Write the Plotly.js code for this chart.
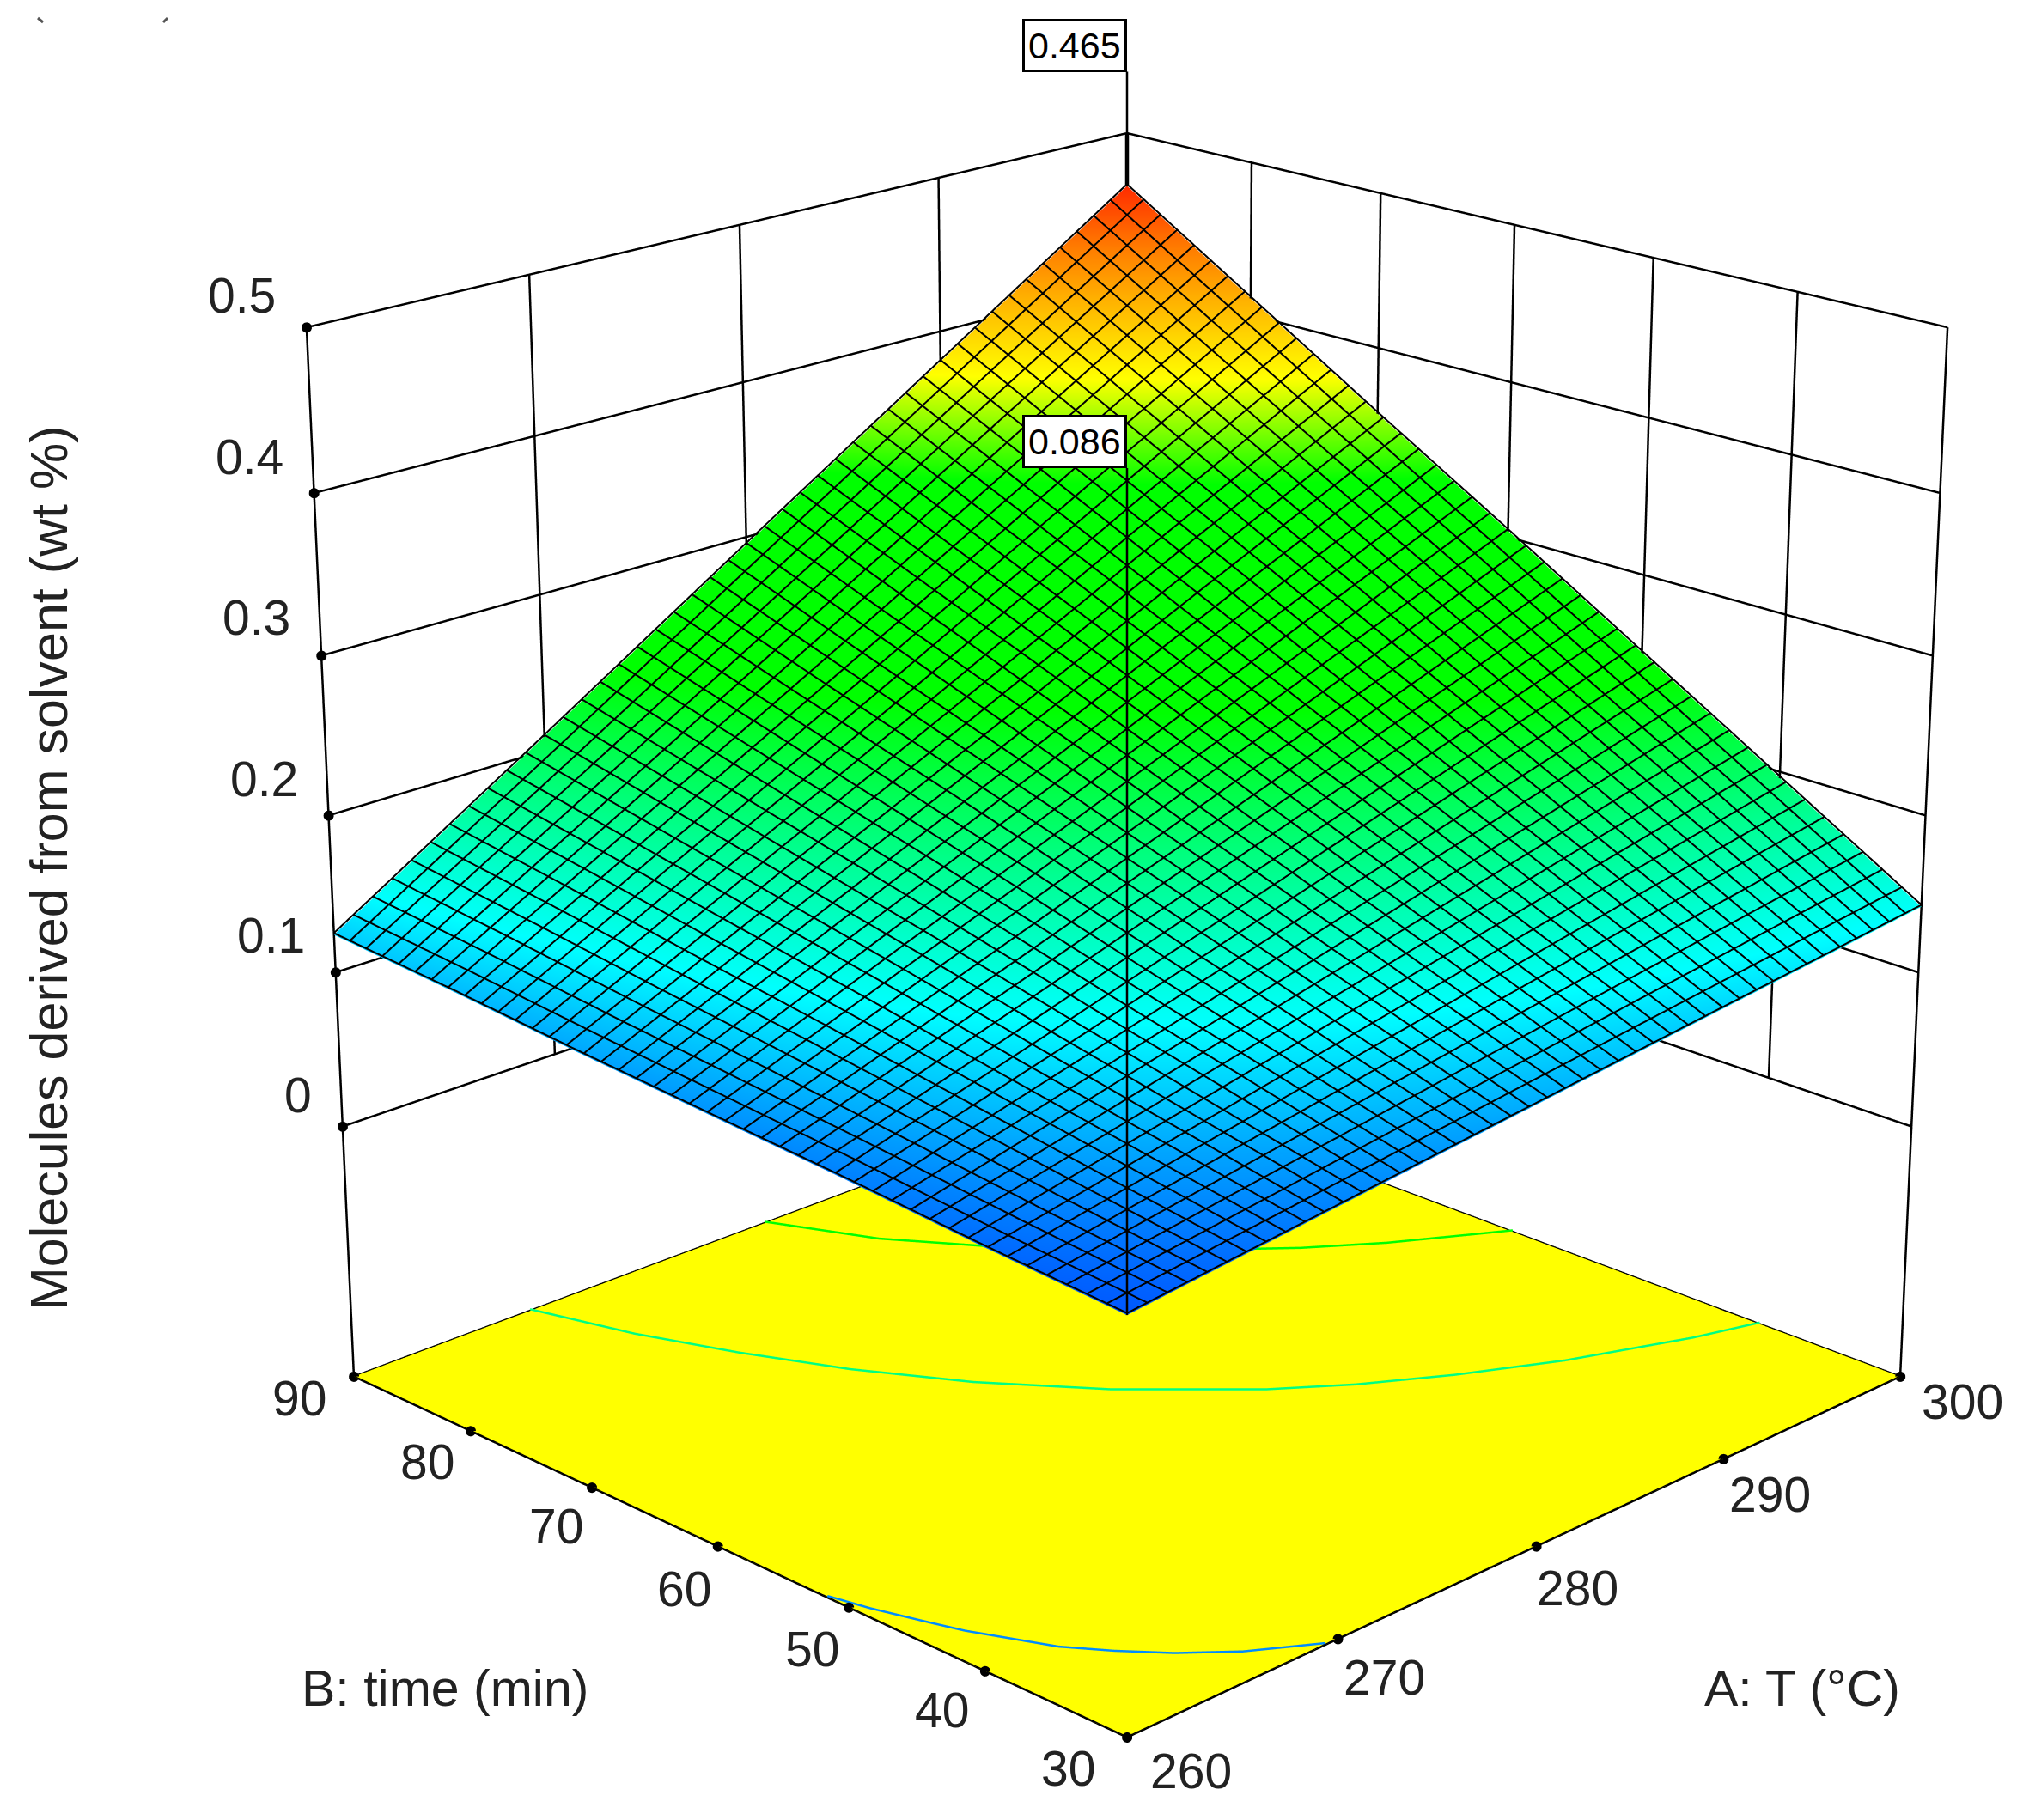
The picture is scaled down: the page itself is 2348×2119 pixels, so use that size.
<!DOCTYPE html>
<html><head><meta charset="utf-8">
<script src="https://cdn.plot.ly/plotly-3.0.1.min.js"></script>
<style>html,body{margin:0;padding:0;background:#fff}#g{width:2348px;height:2119px}</style>
</head><body><div id="g"></div>
<script>
const tempTicks=[260,270,280,290,300];
const timeTicks=[30,40,50,60,70,80,90];
const respTicks=[0,0.1,0.2,0.3,0.4,0.5];
const floorZ=-0.166, wallTop=0.5, zTop=0.6;
const meshCells=44;
// response: rows are time (30..90), columns are T (260..300)
const resp=[
 [0.086,0.100,0.114,0.128,0.142],
 [0.092,0.118,0.144,0.170,0.196],
 [0.099,0.136,0.174,0.212,0.250],
 [0.105,0.155,0.204,0.254,0.304],
 [0.111,0.173,0.234,0.296,0.357],
 [0.118,0.191,0.264,0.338,0.411],
 [0.124,0.209,0.295,0.380,0.465]];
// contour curves on the floor
const c1T=[260,260.4,261,261.5,262.2,262.9,264,265.3,267,269.4], c1B=[51.6,49,46.1,43.8,41.5,39.2,36.9,34.6,32.3,30];
const c2T=[268.4,269.7,271.3,273.2,275.6,278.7,282.7,285.3,288.5,292.3,297.2,300], c2B=[90,83.3,77.3,71.3,65.3,59.3,53.3,50.3,47.3,44.3,41.3,40];
const c3T=[280.2,282.2,285,288.6,293,295.7,299,300], c3B=[90,83.5,77.5,71.4,65.4,62.4,59.4,58.5];
const flagLow={t:260,b:30,z:0.086,top:0.556,label:'0.086'};
const flagHigh={t:300,b:90,z:0.465,top:0.5405,label:'0.465'};

const colorscale=[[0,'rgb(0,90,255)'],[0.14,'rgb(0,255,255)'],[0.40,'rgb(0,255,0)'],[0.64,'rgb(0,255,0)'],
 [0.76,'rgb(255,255,0)'],[0.92,'rgb(255,125,0)'],[1,'rgb(255,45,0)']];
const flat={ambient:1,diffuse:0,specular:0,roughness:1,fresnel:0};
const tMin=tempTicks[0],tMax=tempTicks[4],bMin=timeTicks[0],bMax=timeTicks[6];
const traces=[];
function line(x,y,z,color,width){traces.push({type:'scatter3d',mode:'lines',x,y,z,line:{color:color||'#000',width:width||5},hoverinfo:'skip',showlegend:false});}

// floor
traces.push({type:'surface',x:[tMin,tMax],y:[bMin,bMax],z:[[floorZ,floorZ],[floorZ,floorZ]],
 surfacecolor:[[0,0],[0,0]],colorscale:[[0,'rgb(255,255,0)'],[1,'rgb(255,255,0)']],cmin:0,cmax:1,showscale:false,lighting:flat,hoverinfo:'skip'});
// response surface
traces.push({type:'surface',x:tempTicks,y:timeTicks,z:resp,colorscale,cmin:0.086,cmax:0.465,showscale:false,lighting:flat,hoverinfo:'skip',
 contours:{x:{highlight:false},y:{highlight:false},z:{highlight:false}}});
// heavy mesh on the response surface: looked up in the table, as straight runs
function lookup(t,b){
  const fx=Math.min((t-tMin)/10,3.9999), fy=Math.min((b-bMin)/10,5.9999);
  const i=Math.floor(fx), j=Math.floor(fy), u=fx-i, v=fy-j;
  return (1-v)*((1-u)*resp[j][i]+u*resp[j][i+1])+v*((1-u)*resp[j+1][i]+u*resp[j+1][i+1]);
}
const mx=[],my=[],mz=[],meshLift=0.0012;
for(let k=0;k<=meshCells;k++){
  const t=tMin+(tMax-tMin)*k/meshCells, b=bMin+(bMax-bMin)*k/meshCells;
  timeTicks.forEach(g=>{mx.push(t);my.push(g);mz.push(lookup(t,g)+meshLift);});
  mx.push(null);my.push(null);mz.push(null);
  tempTicks.forEach(g=>{mx.push(g);my.push(b);mz.push(lookup(g,b)+meshLift);});
  mx.push(null);my.push(null);mz.push(null);
}
traces.push({type:'scatter3d',mode:'lines',x:mx,y:my,z:mz,connectgaps:false,line:{color:'#000',width:4},hoverinfo:'skip',showlegend:false});
// floor outline
line([tMin,tMax,tMax,tMin,tMin],[bMin,bMin,bMax,bMax,bMin],[floorZ,floorZ,floorZ,floorZ,floorZ]);
// back walls: level lines
respTicks.forEach(v=>line([tMin,tMax,tMax],[bMax,bMax,bMin],[v,v,v]));
// back walls: uprights run from zero to the top; only the two outer corners reach the floor
tempTicks.forEach(t=>line([t,t],[bMax,bMax],[t===tMin?floorZ:respTicks[0],wallTop]));
timeTicks.forEach(b=>line([tMax,tMax],[b,b],[b===bMin?floorZ:respTicks[0],wallTop]));
// floor contours
const lift=floorZ+0.001;
line(c1T,c1B,c1T.map(()=>lift),'rgb(0,140,255)',5);
line(c2T,c2B,c2T.map(()=>lift),'rgb(0,255,130)',5);
line(c3T,c3B,c3T.map(()=>lift),'rgb(0,255,0)',5);
// flags
[flagLow,flagHigh].forEach(f=>line([f.t,f.t],[f.b,f.b],[f.z,f.top],'#000',5));
line([flagHigh.t,flagHigh.t],[flagHigh.b,flagHigh.b],[flagHigh.z,wallTop],'#000',9);
// tick dots
const dot={size:7,color:'#000'};
traces.push({type:'scatter3d',mode:'markers',x:timeTicks.map(()=>tMin),y:timeTicks,z:timeTicks.map(()=>floorZ),marker:dot,hoverinfo:'skip',showlegend:false});
traces.push({type:'scatter3d',mode:'markers',x:tempTicks,y:tempTicks.map(()=>bMin),z:tempTicks.map(()=>floorZ),marker:dot,hoverinfo:'skip',showlegend:false});
traces.push({type:'scatter3d',mode:'markers',x:respTicks.map(()=>tMin),y:respTicks.map(()=>bMax),z:respTicks,marker:dot,hoverinfo:'skip',showlegend:false});

const font={family:'"Liberation Sans",Arial,sans-serif',size:57,color:'#222'};
const titleFont={family:font.family,size:59,color:'#222'};
const zTitleFont={family:font.family,size:61,color:'#222'};
// small label nudges, in pixels, so the text lands where the reference prints it
const timeNudgeX=[-4,15,22,26,24,15,2], timeNudgeY=[3,12,15,17,12,3,-8];
const tempNudgeX=[-2,-22,-28,-22,-4], tempNudgeY=[6,12,16,8,-4];
const respNudgeY=[-3,-9,-8,-10,-8,-3];
const sceneAnn=[];
timeTicks.forEach((b,i)=>sceneAnn.push({x:tMin,y:b,z:floorZ,text:String(b),showarrow:false,font,xanchor:'center',yanchor:'middle',xshift:-65+timeNudgeX[i],yshift:-33-timeNudgeY[i]}));
tempTicks.forEach((t,i)=>sceneAnn.push({x:t,y:bMin,z:floorZ,text:String(t),showarrow:false,font,xanchor:'center',yanchor:'middle',xshift:76+tempNudgeX[i],yshift:-33-tempNudgeY[i]}));
respTicks.forEach((v,i)=>sceneAnn.push({x:tMin,y:bMax,z:v,text:String(v),showarrow:false,font,xanchor:'right',yanchor:'middle',xshift:-34,yshift:34-respNudgeY[i]}));
[flagLow,flagHigh].forEach(f=>sceneAnn.push({x:f.t,y:f.b,z:f.top,text:f.label,showarrow:false,
 font:{family:font.family,size:43,color:'#000'},xanchor:'right',yanchor:'bottom',bgcolor:'#fff',bordercolor:'#000',borderwidth:3,borderpad:4}));

const W=2348,H=2119;
const layout={width:W,height:H,margin:{l:0,r:0,t:0,b:0},paper_bgcolor:'#fff',showlegend:false,
 scene:{domain:{x:[276/W,1],y:[0,1]},bgcolor:'#fff',
  xaxis:{visible:false,range:[tMin-0.1,tMax+0.1]},yaxis:{visible:false,range:[bMin-0.15,bMax+0.15]},zaxis:{visible:false,range:[floorZ-0.002,zTop]},
  aspectmode:'manual',aspectratio:{x:1,y:1,z:1.137},
  camera:{eye:{x:-3.84,y:-3.84,z:1.904},center:{x:0,y:0,z:-0.1126},up:{x:0,y:0,z:1},projection:{type:'perspective'}},
  annotations:sceneAnn},
 annotations:[
  {xref:'paper',yref:'paper',x:518/W,y:1-1966/H,text:'B: time (min)',showarrow:false,font:titleFont,xanchor:'center',yanchor:'middle'},
  {xref:'paper',yref:'paper',x:2098/W,y:1-1966/H,text:'A: T (°C)',showarrow:false,font:titleFont,xanchor:'center',yanchor:'middle'},
  {xref:'paper',yref:'paper',x:57/W,y:1-1011/H,text:'Molecules derived from solvent (wt %)',showarrow:false,font:zTitleFont,textangle:-90,xanchor:'center',yanchor:'middle'}],
 shapes:[
  {type:'line',xref:'paper',yref:'paper',x0:44/W,y0:1-21/H,x1:50/W,y1:1-26/H,line:{color:'#555',width:3}},
  {type:'line',xref:'paper',yref:'paper',x0:195/W,y0:1-21/H,x1:190/W,y1:1-26/H,line:{color:'#555',width:3}}]};
Plotly.newPlot('g',traces,layout,{displayModeBar:false}).then(gd=>{
  const sc=gd._fullLayout.scene._scene;
  if(sc&&sc.glplot){sc.glplot.fovy=0.2766;sc.glplot.redraw();}
});
</script></body></html>
